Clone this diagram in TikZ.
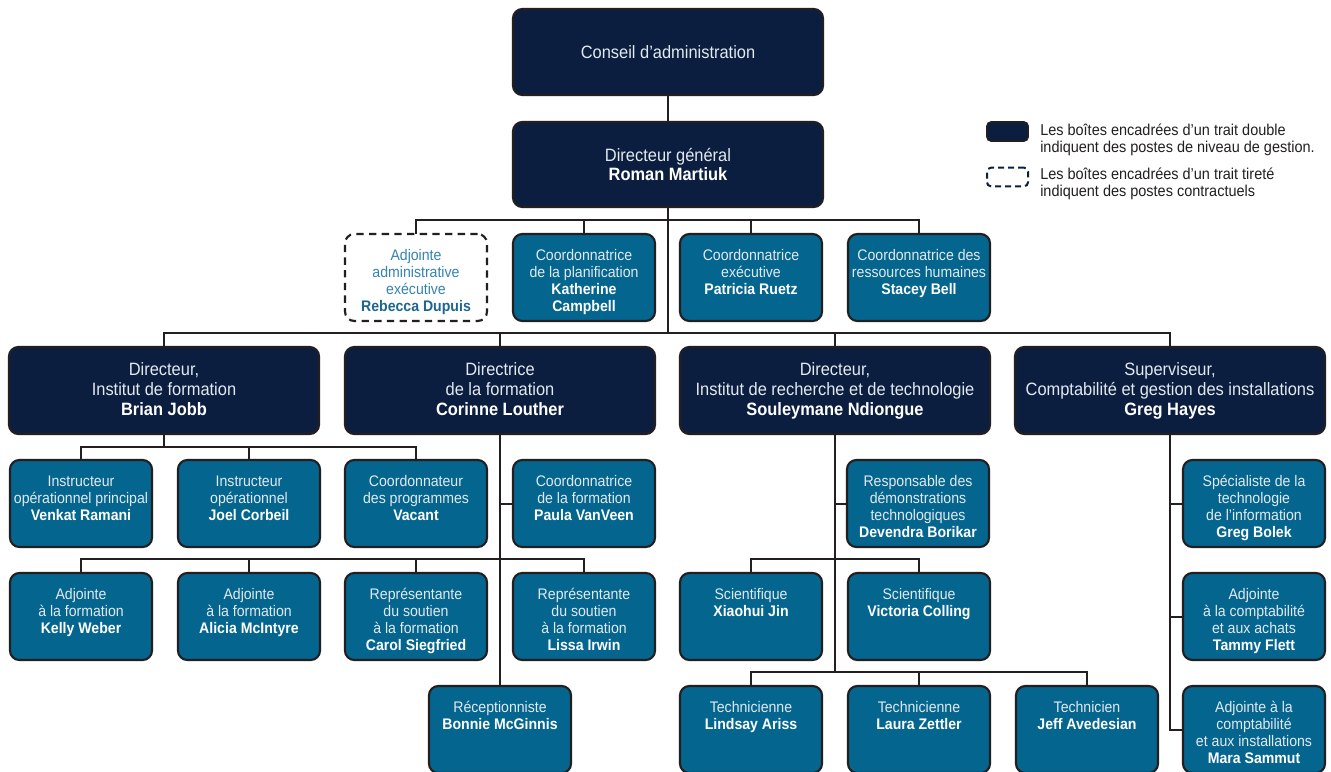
\documentclass[tikz,border=0pt]{standalone}
\usepackage{fontspec}
\setmainfont[FakeStretch=0.92]{Liberation Sans}
\definecolor{orgnavy}{HTML}{0C1E3F}
\definecolor{orgblue}{HTML}{04668F}
\definecolor{edgecol}{HTML}{231F20}
\definecolor{lighttxt}{HTML}{E2E9EF}
\definecolor{dashtxt}{HTML}{3584B0}
\definecolor{dashname}{HTML}{1D6690}
\newcommand\nm[1]{{\bfseries\color{white}#1}}
\newcommand\smalltxt[1]{\parbox[c][65.25pt][t]{106.5pt}{\centering\fontsize{11.5}{12.75}\selectfont\rule{0pt}{19.5pt}#1\par}}
\newcommand\bigtxt[1]{\parbox[c][65.25pt][t]{232.5pt}{\centering\fontsize{13.4}{15}\selectfont\rule{0pt}{21.4pt}#1\par}}
\tikzset{
  orgbox/.style={draw=edgecol, line width=1.6pt, rounded corners=7pt, inner sep=0pt, outer sep=0pt},
  mgmt/.style={orgbox, fill=orgnavy, text=lighttxt},
  staff/.style={orgbox, fill=orgblue, text=lighttxt},
  contract/.style={orgbox, fill=white, text=dashtxt, dash pattern=on 5.5pt off 4pt},
  link/.style={draw=edgecol, line width=1.5pt},
  legtxt/.style={anchor=west, align=left, inner sep=0pt, text=edgecol, font={\fontsize{11.8}{12.6}\selectfont}},
  topfont/.style={font={\fontsize{13.4}{14.5}\selectfont}}
}
\begin{document}
\begin{tikzpicture}[x=0.75pt,y=-0.75pt]
\useasboundingbox (0,0) rectangle (1331,771);
\fill[white] (0,0) rectangle (1331,771);
\clip (0,0) rectangle (1331,771);

% top
\node[mgmt, topfont, minimum width=232.5pt, minimum height=64.5pt] (conseil) at (668,52) {Conseil d’administration};
\node[mgmt, topfont, minimum width=232.5pt, minimum height=63.75pt, align=center] (dg) at (668,164.5) {Directeur général\\\nm{Roman Martiuk}};

% row 2
\node[contract] (adj) at (416,277.5) {\smalltxt{Adjointe\\administrative\\exécutive\\{\bfseries\color{dashname}Rebecca Dupuis}}};
\node[staff] (kath) at (584,277.5) {\smalltxt{Coordonnatrice\\de la planification\\\nm{Katherine}\\\nm{Campbell}}};
\node[staff] (exec) at (751,277.5) {\smalltxt{Coordonnatrice\\exécutive\\\nm{Patricia Ruetz}}};
\node[staff] (rh) at (919,277.5) {\smalltxt{Coordonnatrice des\\ressources humaines\\\nm{Stacey Bell}}};

% row 3
\node[mgmt] (brian) at (164,390.5) {\bigtxt{Directeur,\\Institut de formation\\\nm{Brian Jobb}}};
\node[mgmt] (corinne) at (500,390.5) {\bigtxt{Directrice\\de la formation\\\nm{Corinne Louther}}};
\node[mgmt] (soul) at (835,390.5) {\bigtxt{Directeur,\\Institut de recherche et de technologie\\\nm{Souleymane Ndiongue}}};
\node[mgmt] (greg) at (1170,390.5) {\bigtxt{Superviseur,\\Comptabilité et gestion des installations\\\nm{Greg Hayes}}};

% row 4
\node[staff] (venkat) at (81,503.5) {\smalltxt{Instructeur\\opérationnel principal\\\nm{Venkat Ramani}}};
\node[staff] (joel) at (249,503.5) {\smalltxt{Instructeur\\opérationnel\\\nm{Joel Corbeil}}};
\node[staff] (vacant) at (416,503.5) {\smalltxt{Coordonnateur\\des programmes\\\nm{Vacant}}};
\node[staff] (paula) at (584,503.5) {\smalltxt{Coordonnatrice\\de la formation\\\nm{Paula VanVeen}}};
\node[staff] (dev) at (918,503.5) {\smalltxt{Responsable des\\démonstrations\\technologiques\\\nm{Devendra Borikar}}};
\node[staff] (bolek) at (1254,503.5) {\smalltxt{Spécialiste de la\\technologie\\de l’information\\\nm{Greg Bolek}}};

% row 5
\node[staff] (kelly) at (81,616.5) {\smalltxt{Adjointe\\à la formation\\\nm{Kelly Weber}}};
\node[staff] (alicia) at (249,616.5) {\smalltxt{Adjointe\\à la formation\\\nm{Alicia McIntyre}}};
\node[staff] (carol) at (416,616.5) {\smalltxt{Représentante\\du soutien\\à la formation\\\nm{Carol Siegfried}}};
\node[staff] (lissa) at (584,616.5) {\smalltxt{Représentante\\du soutien\\à la formation\\\nm{Lissa Irwin}}};
\node[staff] (xiao) at (751,616.5) {\smalltxt{Scientifique\\\nm{Xiaohui Jin}}};
\node[staff] (vict) at (919,616.5) {\smalltxt{Scientifique\\\nm{Victoria Colling}}};
\node[staff] (tammy) at (1254,616.5) {\smalltxt{Adjointe\\à la comptabilité\\et aux achats\\\nm{Tammy Flett}}};

% row 6
\node[staff] (bonnie) at (500,729.5) {\smalltxt{Réceptionniste\\\nm{Bonnie McGinnis}}};
\node[staff] (lind) at (751,729.5) {\smalltxt{Technicienne\\\nm{Lindsay Ariss}}};
\node[staff] (laura) at (919,729.5) {\smalltxt{Technicienne\\\nm{Laura Zettler}}};
\node[staff] (jeff) at (1087,729.5) {\smalltxt{Technicien\\\nm{Jeff Avedesian}}};
\node[staff] (mara) at (1254,729.5) {\smalltxt{Adjointe à la\\comptabilité\\et aux installations\\\nm{Mara Sammut}}};

% bus coordinates
\coordinate (b2) at (668,220);
\coordinate (b3) at (668,333);
\coordinate (b4) at (164,447);
\coordinate (b5) at (500,559);
\coordinate (b6) at (835,672);

% connectors
\draw[link] (conseil.south) -- (dg.north);
\draw[link] (dg.south) -- (b3);
\draw[link] (adj.north) -- (adj.north |- b2) -- (rh.north |- b2) -- (rh.north);
\draw[link] (kath.north) -- (kath.north |- b2);
\draw[link] (exec.north) -- (exec.north |- b2);

\draw[link] (brian.north) -- (brian.north |- b3) -- (greg.north |- b3) -- (greg.north);
\draw[link] (corinne.north) -- (corinne.north |- b3);
\draw[link] (soul.north) -- (soul.north |- b3);

\draw[link] (brian.south) -- (b4);
\draw[link] (venkat.north) -- (venkat.north |- b4) -- (vacant.north |- b4) -- (vacant.north);
\draw[link] (joel.north) -- (joel.north |- b4);

\draw[link] (corinne.south) -- (bonnie.north);
\draw[link] (paula.west) -- (paula.west -| corinne.south);
\draw[link] (kelly.north) -- (kelly.north |- b5) -- (lissa.north |- b5) -- (lissa.north);
\draw[link] (alicia.north) -- (alicia.north |- b5);
\draw[link] (carol.north) -- (carol.north |- b5);

\draw[link] (soul.south) -- (b6);
\draw[link] (dev.west) -- (dev.west -| soul.south);
\draw[link] (xiao.north) -- (xiao.north |- b5) -- (vict.north |- b5) -- (vict.north);
\draw[link] (lind.north) -- (lind.north |- b6) -- (jeff.north |- b6) -- (jeff.north);
\draw[link] (laura.north) -- (laura.north |- b6);

\draw[link] (greg.south) -- (greg.south |- mara.west) -- (mara.west);
\draw[link] (bolek.west) -- (bolek.west -| greg.south);
\draw[link] (tammy.west) -- (tammy.west -| greg.south);

% legend
\node[orgbox, fill=orgnavy, line width=1.2pt, rounded corners=3pt, minimum width=30.75pt, minimum height=14.25pt] (legm) at (1007.5,131.5) {};
\node[orgbox, draw=orgnavy, line width=1.5pt, rounded corners=3pt, dash pattern=on 4.5pt off 3pt, minimum width=30.75pt, minimum height=14pt] (legc) at (1007.5,177) {};
\node[legtxt] (legmt) at (1040,139.5) {Les boîtes encadrées d’un trait double\\indiquent des postes de niveau de gestion.};
\node[legtxt] (legct) at (1040,183.5) {Les boîtes encadrées d’un trait tireté\\indiquent des postes contractuels};
\end{tikzpicture}
\end{document}
